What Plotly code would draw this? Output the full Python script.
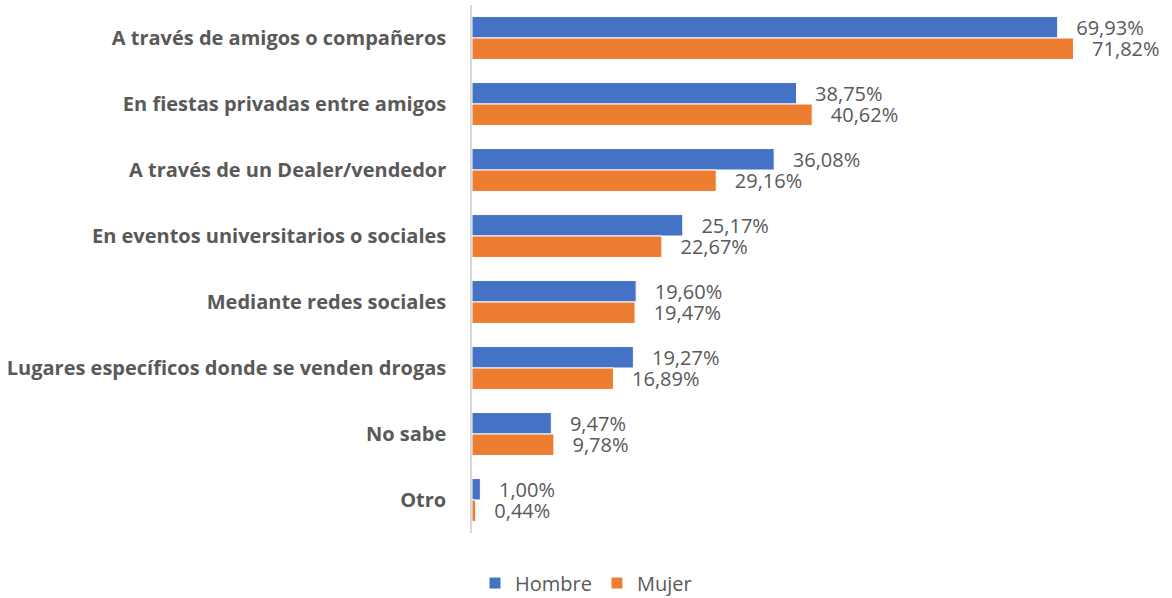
import plotly.graph_objects as go

categories = [
    "A través de amigos o compañeros",
    "En fiestas privadas entre amigos",
    "A través de un Dealer/vendedor",
    "En eventos universitarios o sociales",
    "Mediante redes sociales",
    "Lugares específicos donde se venden drogas",
    "No sabe",
    "Otro",
]
hombre = [69.93, 38.75, 36.08, 25.17, 19.60, 19.27, 9.47, 1.00]
mujer = [71.82, 40.62, 29.16, 22.67, 19.47, 16.89, 9.78, 0.44]
series_names = ["Hombre", "Mujer"]
colors = ["#4472C4", "#ED7D31"]

def fmt(v):
    return "\u00a0\u00a0\u00a0" + f"{v:.2f}".replace(".", ",") + "%"

fig = go.Figure()
for name, vals, col in zip(series_names, [hombre, mujer], colors):
    fig.add_trace(go.Bar(
        y=categories, x=vals, name=name, orientation="h",
        marker=dict(color=col, line=dict(color="white", width=1)),
        text=[fmt(v) for v in vals], textposition="outside",
        constraintext="none",
        textfont=dict(family="Open Sans", size=20, color="#595959"),
        cliponaxis=False,
    ))

fig.update_layout(
    width=1172, height=598,
    barmode="group", bargap=0.35, bargroupgap=0,
    plot_bgcolor="white", paper_bgcolor="white",
    margin=dict(l=472, r=30, t=5, b=65),
    font=dict(family="Open Sans", color="#595959"),
    legend=dict(orientation="h", xref="container", yref="container",
                x=0.5, xanchor="center", y=0.025, yanchor="middle",
                font=dict(size=20, color="#595959"), traceorder="normal"),
)
fig.update_xaxes(range=[0, 80], visible=False, showgrid=False, zeroline=False)
fig.update_yaxes(autorange="reversed", showline=True, linecolor="#D9D9D9", linewidth=1.5,
                 ticks="", ticklabelstandoff=20,
                 tickfont=dict(family="Open Sans", size=20, color="#595959", weight="bold"))

fig.write_html("out.html", config={"displayModeBar": False},
               post_script="document.body.style.margin='0';document.body.style.padding='0';")
